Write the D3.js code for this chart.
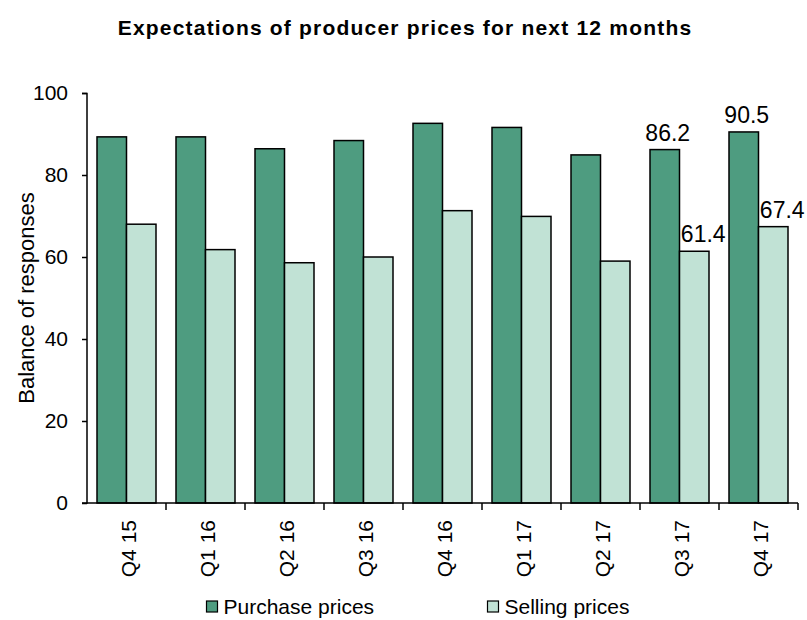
<!DOCTYPE html>
<html>
<head>
<meta charset="utf-8">
<script src="https://cdn.jsdelivr.net/npm/d3@7"></script>
<style>
	body { margin: 0; background: #fff; }
	svg { font-family: "Liberation Sans", Arial, sans-serif; }
</style>
</head>
<body>
<svg id="chart" width="807" height="620"></svg>
<script>
	//chart data
var quarters = ['Q4 15', 'Q1 16', 'Q2 16', 'Q3 16', 'Q4 16', 'Q1 17', 'Q2 17', 'Q3 17', 'Q4 17'];
var purchasePrices = [89.3, 89.3, 86.4, 88.4, 92.6, 91.6, 84.9, 86.2, 90.5];
var sellingPrices = [68.0, 61.8, 58.6, 60.0, 71.3, 69.9, 59.0, 61.4, 67.4];
var yTicks = [0, 20, 40, 60, 80, 100];
var seriesNames = ['Purchase prices', 'Selling prices'];
var labelled = ['Q3 17', 'Q4 17'];

var colors = ['#4e9c80', '#c1e2d5'];

var svg = d3.select('#chart');
var margin = {left: 87, right: 9, top: 93, bottom: 117};
var width = 807 - margin.left - margin.right;
var height = 620 - margin.top - margin.bottom;

var x = d3.scaleBand().domain(quarters).range([0, width]).paddingInner(0).paddingOuter(0);
var xs = d3.scaleBand().domain([0, 1]).range([10, x.bandwidth() - 10]);
var y = d3.scaleLinear().domain([0, 100]).range([height, 0]);

svg.append('text')
	.attr('x', 405).attr('y', 35)
	.attr('text-anchor', 'middle')
	.style('font-weight', 'bold').style('font-size', '21px')
	.style('letter-spacing', '1.2px')
	.text('Expectations of producer prices for next 12 months');

var g = svg.append('g').attr('transform', 'translate(' + margin.left + ',' + margin.top + ')');

	//bars
var series = [purchasePrices, sellingPrices];
series.forEach(function(values, s) {
	g.selectAll('.bar-' + s)
		.data(values)
		.enter().append('rect')
		.attr('x', function(d, i) { return x(quarters[i]) + xs(s); })
		.attr('y', function(d) { return y(d); })
		.attr('width', xs.bandwidth())
		.attr('height', function(d) { return height - y(d); })
		.attr('fill', colors[s])
		.attr('stroke', '#000')
		.attr('stroke-width', 1.5);

		//value labels only for the last two quarters
	values.forEach(function(d, i) {
		if(labelled.indexOf(quarters[i]) < 0) return;
		g.append('text')
			.attr('x', x(quarters[i]) + xs(s) + xs.bandwidth() / 2 + (s == 1 ? 9 : 3))
			.attr('y', y(d) - 9)
			.attr('text-anchor', 'middle')
			.style('font-size', '23px')
			.text(d.toFixed(1));
	});
});

	//y axis
var yAxis = g.append('g')
	.call(d3.axisLeft(y).tickValues(yTicks).tickSize(5).tickPadding(14).tickFormat(d3.format('d')));
yAxis.selectAll('text').style('font-size', '21px').attr('fill', '#000');
yAxis.selectAll('line, path').attr('stroke', '#000').attr('stroke-width', 1.5);
yAxis.select('.domain').attr('d', 'M-5,0.5H0V' + height + 'H-5');

	//x axis
var xAxis = g.append('g').attr('transform', 'translate(0,' + height + ')');
xAxis.append('line').attr('x1', 0).attr('x2', width).attr('stroke', '#000').attr('stroke-width', 1.5);
xAxis.selectAll('.tick')
	.data(quarters)
	.enter().append('line')
	.attr('x1', function(d) { return x(d) + x.bandwidth(); })
	.attr('x2', function(d) { return x(d) + x.bandwidth(); })
	.attr('y1', 0).attr('y2', 7)
	.attr('stroke', '#000').attr('stroke-width', 1.5);
xAxis.selectAll('.qlabel')
	.data(quarters)
	.enter().append('text')
	.attr('transform', function(d) { return 'translate(' + (x(d) + x.bandwidth() / 2 + 9) + ',17) rotate(-90)'; })
	.attr('text-anchor', 'end')
	.style('font-size', '21px')
	.text(function(d) { return d; });

svg.append('text')
	.attr('transform', 'translate(34,298) rotate(-90)')
	.attr('text-anchor', 'middle')
	.style('font-size', '22px')
	.text('Balance of responses');

	//legend
var legendX = [206.5, 487.5];
seriesNames.forEach(function(name, i) {
	svg.append('rect')
		.attr('x', legendX[i]).attr('y', 601)
		.attr('width', 11).attr('height', 11)
		.attr('fill', colors[i]).attr('stroke', '#000').attr('stroke-width', 1.2);
	svg.append('text')
		.attr('x', legendX[i] + 17).attr('y', 614)
		.style('font-size', '21px')
		.text(name);
});
</script>
</body>
</html>
